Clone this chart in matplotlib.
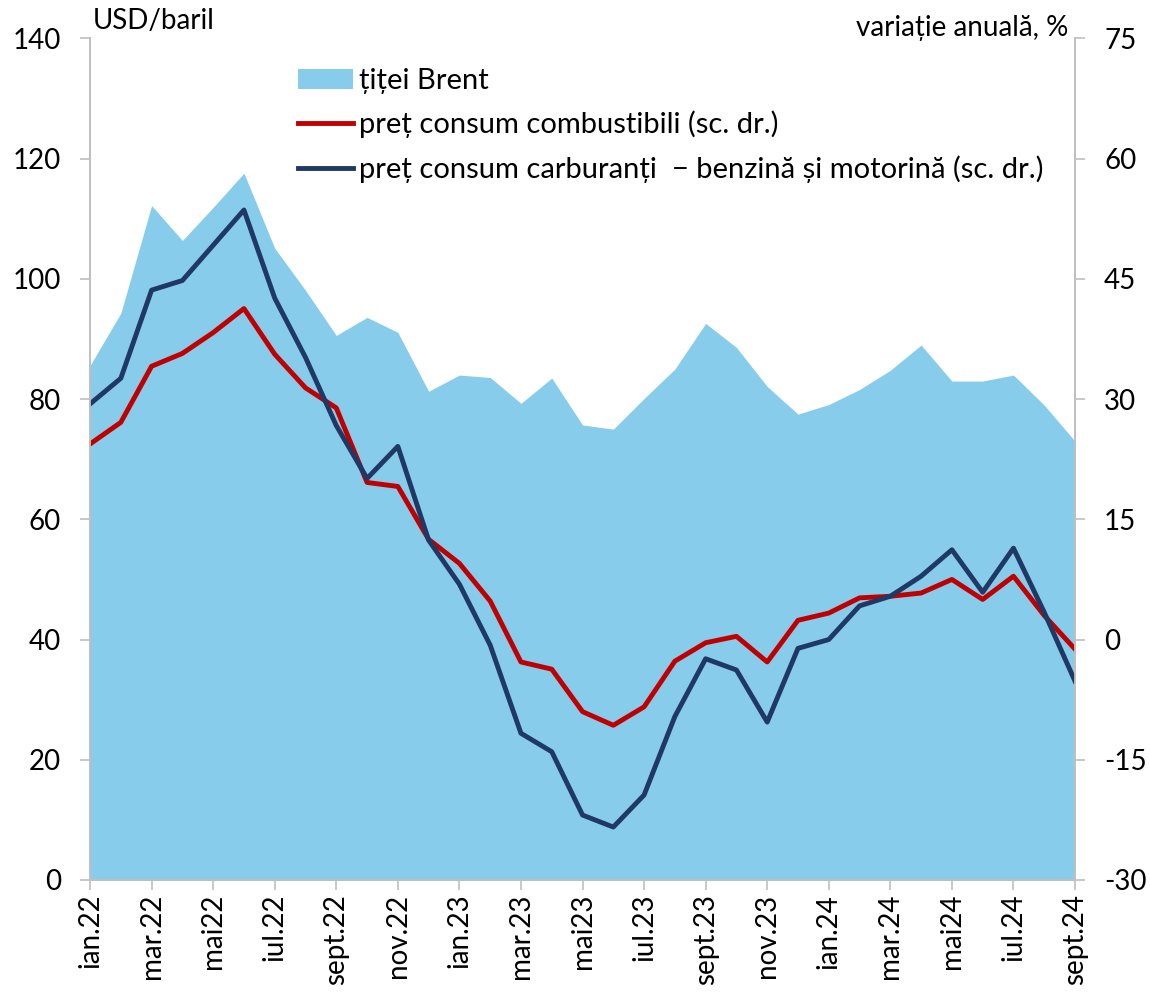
import matplotlib
matplotlib.use('Agg')
import matplotlib.pyplot as plt
import numpy as np

plt.rcParams['font.family'] = ['Lato', 'DejaVu Sans']
plt.rcParams['axes.unicode_minus'] = False

months = ['ian.22', 'feb.22', 'mar.22', 'apr.22', 'mai22', 'iun.22', 'iul.22', 'aug.22',
          'sept.22', 'oct.22', 'nov.22', 'dec.22',
          'ian.23', 'feb.23', 'mar.23', 'apr.23', 'mai23', 'iun.23', 'iul.23', 'aug.23',
          'sept.23', 'oct.23', 'nov.23', 'dec.23',
          'ian.24', 'feb.24', 'mar.24', 'apr.24', 'mai24', 'iun.24', 'iul.24', 'aug.24',
          'sept.24']

brent = [85.6, 94.3, 112.2, 106.4, 111.9, 117.6, 105.1, 98.1, 90.6, 93.6, 91.1, 81.3,
         84.0, 83.6, 79.3, 83.5, 75.7, 75.0, 80.1, 85.0, 92.6, 88.6, 82.1, 77.5,
         79.1, 81.6, 84.8, 89.0, 83.0, 83.0, 84.0, 79.0, 73.0]

combustibili = [24.4, 27.1, 34.1, 35.7, 38.3, 41.3, 35.6, 31.4, 28.9, 19.6, 19.1, 12.5,
                9.5, 4.8, -2.8, -3.7, -9.0, -10.7, -8.4, -2.7, -0.4, 0.4, -2.8, 2.4,
                3.3, 5.2, 5.4, 5.8, 7.5, 5.0, 7.9, 3.0, -1.2]

carburanti = [29.4, 32.6, 43.6, 44.8, 49.2, 53.6, 42.6, 35.2, 26.7, 20.1, 24.1, 12.4,
              6.9, -0.7, -11.7, -14.0, -21.9, -23.4, -19.4, -9.6, -2.4, -3.8, -10.3, -1.1,
              0.0, 4.2, 5.4, 7.9, 11.2, 5.9, 11.4, 3.4, -5.2]

grey = '#BFBFBF'
x = np.arange(len(months))

fig = plt.figure(figsize=(11.5, 9.97), dpi=100)
ax = fig.add_axes([0.0783, 0.1174, 0.8565, 0.844])
ax2 = ax.twinx()

fill = ax.fill_between(x, 0, brent, color='#87CCEA', linewidth=0, label='țiței Brent')
l1, = ax2.plot(x, combustibili, color='#C00000', linewidth=3.5,
               label='preț consum combustibili (sc. dr.)')
l2, = ax2.plot(x, carburanti, color='#203864', linewidth=3.5,
               label='preț consum carburanți  − benzină și motorină (sc. dr.)')

ax.set_xlim(0, len(months) - 1)
ax.set_ylim(0, 140)
ax.set_yticks(np.arange(0, 141, 20))
ax2.set_ylim(-30, 75)
ax2.set_yticks(np.arange(-30, 76, 15))

ax.set_xticks(x[::2])
ax.set_xticklabels(months[::2], rotation=90)

for a in (ax, ax2):
    a.spines['top'].set_visible(False)
    for s in ('left', 'right', 'bottom'):
        a.spines[s].set_color(grey)
        a.spines[s].set_linewidth(1.3)
    a.tick_params(axis='both', colors=grey, labelcolor='black', labelsize=20,
                  length=7, width=1.2)
ax.tick_params(axis='y', pad=14)
ax2.tick_params(axis='y', pad=14)
ax.tick_params(axis='x', pad=3)

ax2.legend([fill, l1, l2], [fill.get_label(), l1.get_label(), l2.get_label()],
           loc='upper left', bbox_to_anchor=(0.211, 0.965), frameon=False,
           fontsize=21, handlelength=1.9, handletextpad=0.2, labelspacing=0.58,
           borderpad=0, borderaxespad=0)

fig.text(93 / 1150, 1 - 21 / 997, 'USD/baril', fontsize=20, va='center', ha='left')
fig.text(1068 / 1150, 1 - 28 / 997, 'variație anuală, %', fontsize=20, va='center', ha='right')

plt.savefig('out.png', dpi=100)
plt.close()
